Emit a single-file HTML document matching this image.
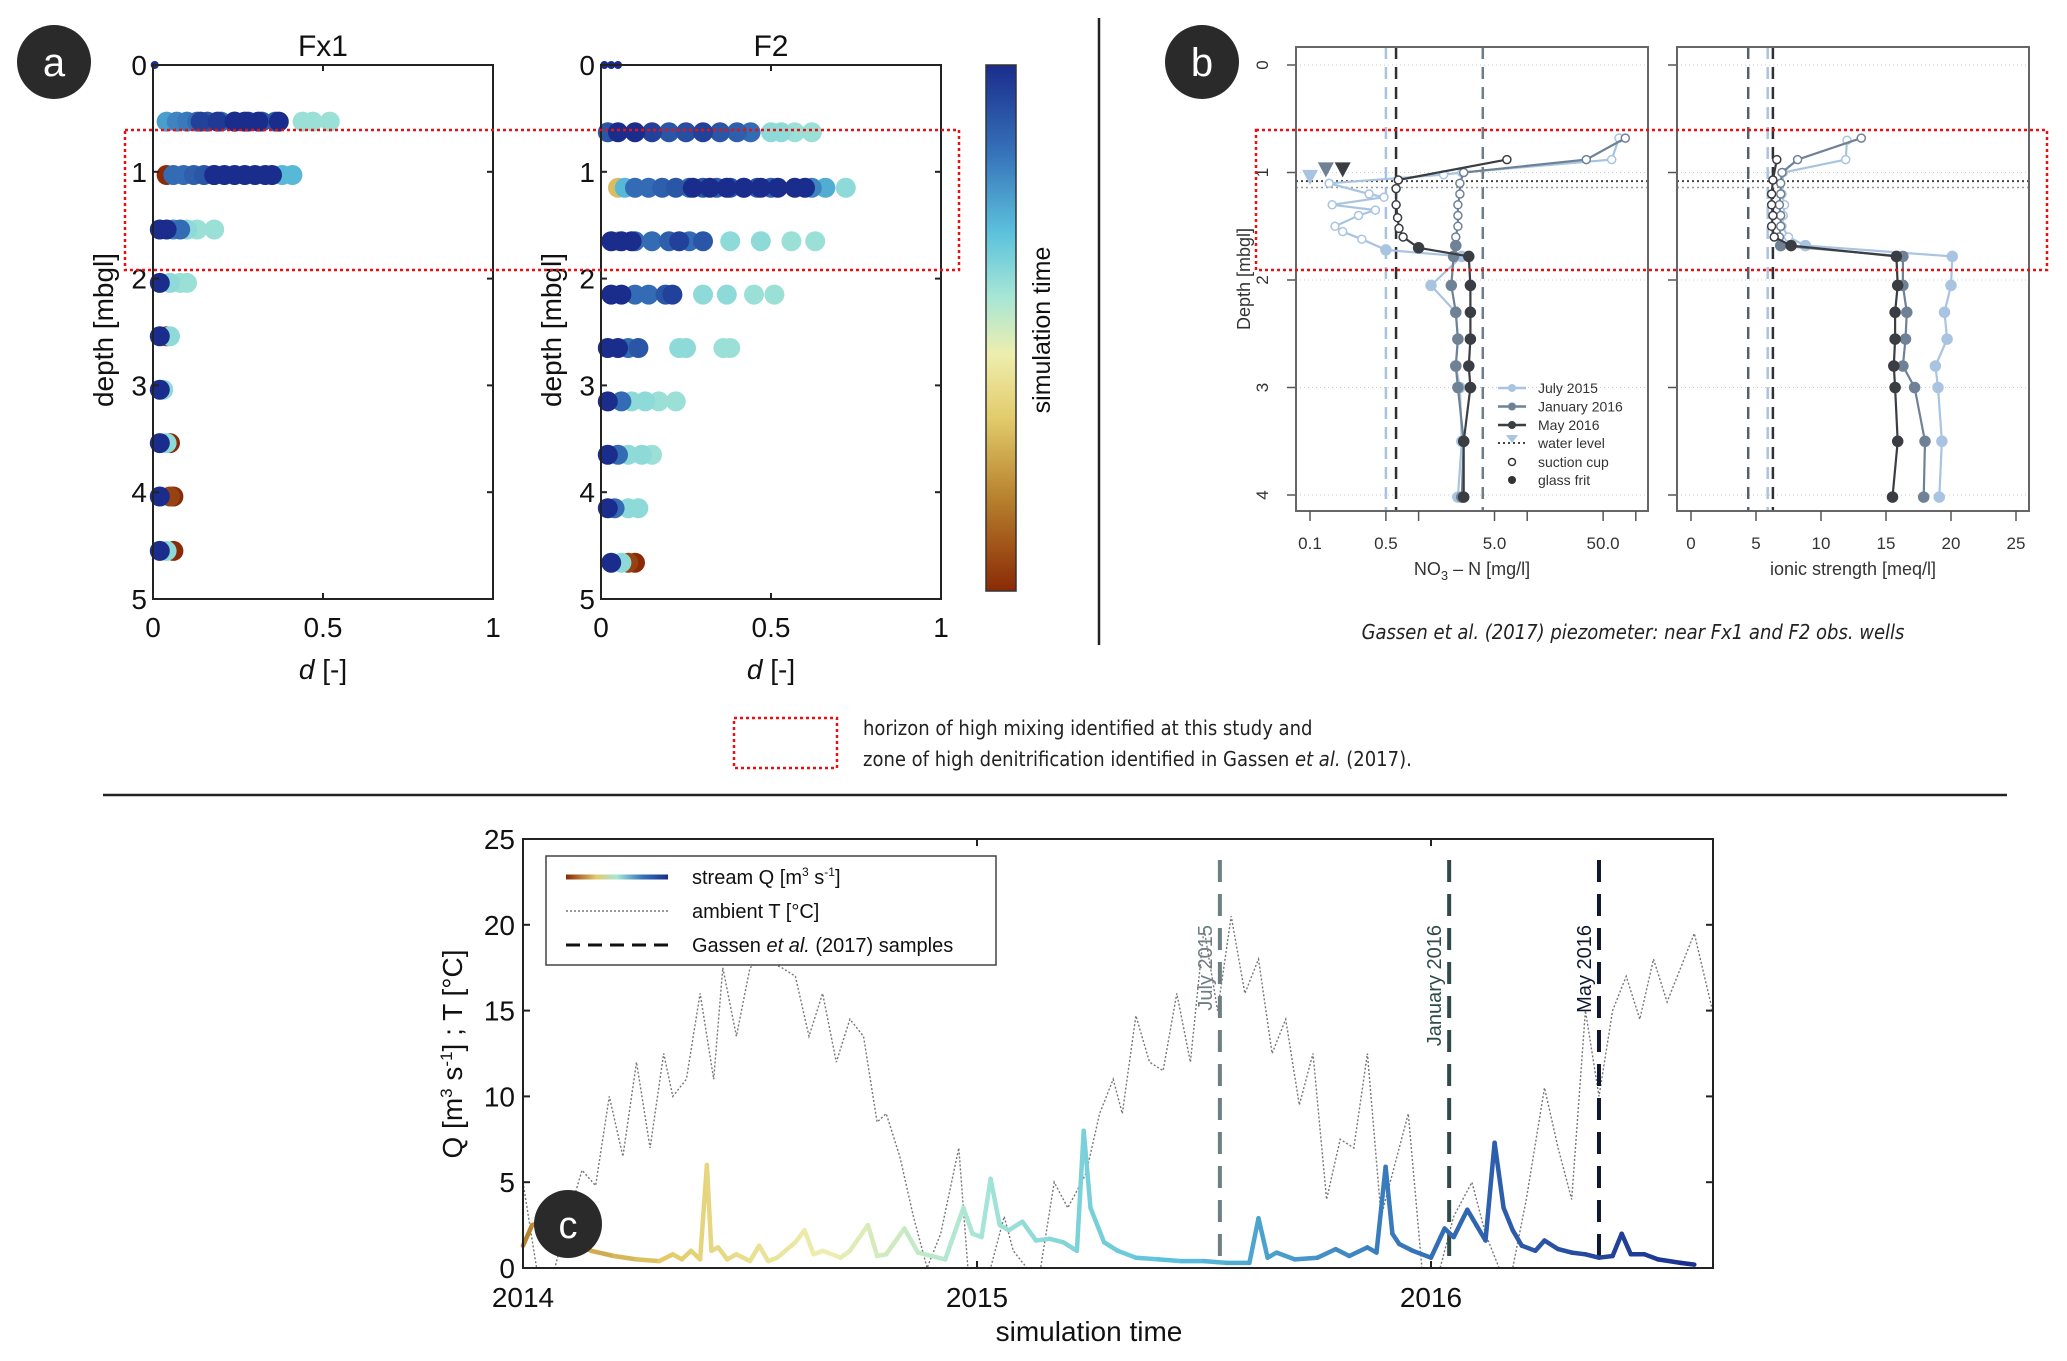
<!DOCTYPE html>
<html><head><meta charset="utf-8"><style>
html,body{margin:0;padding:0;background:#fff}
svg{display:block;font-family:"Liberation Sans",sans-serif}
</style></head><body>
<svg id="fig" width="2067" height="1361" viewBox="0 0 2067 1361" xmlns="http://www.w3.org/2000/svg">
<defs>
<linearGradient id="cbar" x1="0" y1="1" x2="0" y2="0">
<stop offset="0" stop-color="#8a2a06"/><stop offset="0.18" stop-color="#b8832e"/><stop offset="0.33" stop-color="#e2cc6c"/><stop offset="0.45" stop-color="#eeeeae"/><stop offset="0.56" stop-color="#a6e6d6"/><stop offset="0.68" stop-color="#5cc2dc"/><stop offset="0.83" stop-color="#3674ba"/><stop offset="1" stop-color="#1a2c8c"/>
</linearGradient>
<linearGradient id="qleg" x1="0" y1="0" x2="1" y2="0">
<stop offset="0" stop-color="#8a2a06"/><stop offset="0.3" stop-color="#e2cc6c"/><stop offset="0.5" stop-color="#a6e6d6"/><stop offset="0.75" stop-color="#3674ba"/><stop offset="1" stop-color="#1a2c8c"/>
</linearGradient>
</defs>
<g id="layer-a"></g>
<g id="layer-b"></g>
<g id="layer-c"></g>
</svg>
<script>
// ---------- Panel a data ----------
const fx1Depths = [0, 0.53, 1.03, 1.54, 2.04, 2.54, 3.04, 3.54, 4.04, 4.55];
const fx1Points = [
 [[0.005,1]],
 [[0.04,0.75],[0.07,0.8],[0.1,0.82],[0.13,0.85],[0.16,0.9],[0.2,0.85],[0.24,0.9],[0.28,0.95],[0.32,0.9],[0.36,0.88],[0.44,0.58],[0.47,0.58],[0.52,0.58],[0.14,0.95],[0.19,0.97],[0.24,1],[0.27,1],[0.31,1],[0.37,1]],
 [[0.04,0],[0.06,0.85],[0.09,0.85],[0.12,0.88],[0.15,0.9],[0.18,0.92],[0.38,0.7],[0.41,0.7],[0.18,1],[0.21,1],[0.24,1],[0.27,1],[0.3,1],[0.33,1],[0.35,1]],
 [[0.1,0.6],[0.13,0.58],[0.18,0.58],[0.06,0.8],[0.08,0.85],[0.02,1],[0.04,1]],
 [[0.05,0.6],[0.08,0.58],[0.1,0.58],[0.02,1]],
 [[0.04,0],[0.05,0.6],[0.02,1]],
 [[0.03,0.6],[0.02,1]],
 [[0.05,0],[0.04,0.6],[0.02,1]],
 [[0.06,0],[0.05,0.05],[0.02,1]],
 [[0.06,0],[0.04,0.6],[0.02,1]]
];
const f2Depths = [0, 0.63, 1.15, 1.65, 2.15, 2.65, 3.15, 3.65, 4.15, 4.66];
const f2Points = [
 [[0.01,1],[0.03,1],[0.05,1]],
 [[0.02,0.9],[0.05,1],[0.1,1],[0.15,0.95],[0.2,0.9],[0.25,0.92],[0.3,0.95],[0.35,0.9],[0.4,0.88],[0.44,0.85],[0.5,0.6],[0.53,0.6],[0.57,0.58],[0.62,0.58]],
 [[0.05,0.3],[0.07,0.7],[0.1,0.85],[0.14,0.85],[0.18,0.88],[0.22,0.9],[0.26,0.85],[0.3,0.9],[0.34,0.88],[0.38,0.9],[0.42,0.85],[0.46,0.9],[0.5,0.88],[0.62,0.8],[0.66,0.72],[0.72,0.6],[0.27,1],[0.32,1],[0.37,1],[0.42,1],[0.47,1],[0.52,1],[0.57,1],[0.6,1]],
 [[0.05,0.3],[0.1,0.85],[0.15,0.85],[0.2,0.88],[0.26,0.85],[0.3,0.9],[0.38,0.6],[0.47,0.6],[0.56,0.58],[0.63,0.58],[0.03,1],[0.06,1],[0.09,1],[0.23,0.95]],
 [[0.1,0.85],[0.14,0.85],[0.19,0.9],[0.21,0.95],[0.3,0.6],[0.37,0.6],[0.45,0.58],[0.51,0.58],[0.03,1],[0.06,1]],
 [[0.08,0.85],[0.11,0.9],[0.23,0.6],[0.25,0.6],[0.36,0.58],[0.38,0.58],[0.02,1],[0.05,1]],
 [[0.06,0.85],[0.09,0.6],[0.13,0.6],[0.17,0.58],[0.22,0.58],[0.02,1]],
 [[0.05,0.85],[0.08,0.6],[0.12,0.6],[0.15,0.58],[0.02,1]],
 [[0.04,0.85],[0.08,0.6],[0.11,0.6],[0.02,1]],
 [[0.1,0],[0.08,0.05],[0.06,0.6],[0.03,1]]
];
// ---------- Panel b data ----------
const no3July = [[70,0.68],[60,0.88],[2.5,1.0],[1.7,1.02],[0.15,1.1],[0.35,1.2],[0.48,1.23],[0.16,1.3],[0.4,1.35],[0.28,1.4],[0.17,1.5],[0.2,1.55],[0.3,1.62],[0.5,1.72],[2.5,1.78],[1.3,2.05],[2.2,2.3],[2.3,2.55],[2.2,2.8],[2.4,3.0],[2.5,3.5],[2.3,4.02]];
const no3Jan = [[80,0.68],[35,0.88],[2.6,1.0],[2.4,1.1],[2.4,1.2],[2.3,1.3],[2.3,1.4],[2.3,1.5],[2.2,1.6],[2.2,1.68],[2.1,1.78],[2.0,2.05],[2.2,2.3],[2.3,2.55],[2.2,2.8],[2.3,3.0],[2.6,3.5],[2.5,4.02]];
const no3May = [[6.5,0.88],[0.65,1.07],[0.62,1.15],[0.62,1.3],[0.64,1.42],[0.66,1.52],[0.72,1.6],[1.0,1.7],[2.9,1.78],[3.0,2.05],[3.0,2.3],[3.0,2.55],[2.9,2.8],[3.0,3.0],[2.6,3.5],[2.6,4.02]];
const ionJuly = [[12,0.7],[11.9,0.88],[7.1,1.0],[7.0,1.2],[7.2,1.3],[7.1,1.4],[7.0,1.5],[7.5,1.6],[8.8,1.68],[20.1,1.78],[20.0,2.05],[19.5,2.3],[19.7,2.55],[18.8,2.8],[19.0,3.0],[19.3,3.5],[19.1,4.02]];
const ionJan = [[13.1,0.68],[8.2,0.88],[7.0,1.0],[6.9,1.1],[6.9,1.2],[6.8,1.3],[6.9,1.4],[6.9,1.5],[6.8,1.6],[6.9,1.68],[16.3,1.78],[16.3,2.05],[16.6,2.3],[16.5,2.55],[16.3,2.8],[17.2,3.0],[18.0,3.5],[17.9,4.02]];
const ionMay = [[6.6,0.88],[6.3,1.07],[6.2,1.2],[6.2,1.3],[6.3,1.4],[6.2,1.5],[6.4,1.6],[7.7,1.68],[15.8,1.78],[15.9,2.05],[15.7,2.3],[15.7,2.55],[15.6,2.8],[15.7,3.0],[15.9,3.5],[15.5,4.02]];
const no3Refs = [0.5, 0.62, 3.9];
const ionRefs = [4.4, 5.9, 6.3];
const waterLevels = [1.08, 1.14];
const no3Ticks = [0.1, 0.5, 1, 5, 10, 50, 100];
const no3TickLabels = ["0.1","0.5","","5.0","","50.0",""];
const ionTicks = [0,5,10,15,20,25];
const depthTicks = [0,1,2,3,4];
// ---------- Panel c data ----------
const qTime = [2014.0,2014.02,2014.05,2014.08,2014.11,2014.15,2014.2,2014.25,2014.3,2014.33,2014.35,2014.37,2014.39,2014.405,2014.415,2014.43,2014.45,2014.47,2014.5,2014.52,2014.54,2014.56,2014.6,2014.62,2014.64,2014.66,2014.7,2014.72,2014.76,2014.78,2014.8,2014.84,2014.87,2014.9,2014.93,2014.97,2014.99,2015.01,2015.03,2015.05,2015.07,2015.1,2015.13,2015.16,2015.19,2015.22,2015.235,2015.25,2015.28,2015.31,2015.35,2015.4,2015.45,2015.5,2015.55,2015.6,2015.62,2015.64,2015.66,2015.7,2015.75,2015.79,2015.82,2015.86,2015.88,2015.9,2015.915,2015.93,2015.96,2016.0,2016.03,2016.05,2016.08,2016.1,2016.12,2016.14,2016.16,2016.18,2016.2,2016.23,2016.25,2016.28,2016.31,2016.34,2016.37,2016.4,2016.42,2016.44,2016.47,2016.5,2016.55,2016.58];
const qVals = [1.3,2.5,2.7,1.8,1.4,1.0,0.7,0.5,0.4,0.8,0.5,1.0,0.5,6.0,1.0,1.2,0.5,0.8,0.4,1.3,0.4,0.6,1.5,2.2,0.8,1.0,0.6,1.0,2.5,0.7,0.8,2.3,0.9,0.7,0.5,3.5,2.0,1.8,5.2,2.5,2.2,2.7,1.6,1.7,1.5,1.0,8.0,3.5,1.5,1.0,0.6,0.5,0.4,0.4,0.3,0.3,2.9,0.6,0.9,0.5,0.6,1.1,0.7,1.2,0.9,5.9,2.0,1.4,1.0,0.6,2.3,1.8,3.4,2.5,1.6,7.3,3.5,2.2,1.3,1.0,1.6,1.1,0.9,0.8,0.6,0.7,2.0,0.8,0.8,0.5,0.3,0.2];
const tTime = [2014.0,2014.03,2014.07,2014.1,2014.13,2014.16,2014.19,2014.22,2014.25,2014.28,2014.31,2014.33,2014.36,2014.39,2014.42,2014.44,2014.47,2014.5,2014.53,2014.57,2014.6,2014.63,2014.66,2014.69,2014.72,2014.75,2014.78,2014.8,2014.83,2014.86,2014.89,2014.92,2014.96,2014.98,2015.03,2015.06,2015.08,2015.11,2015.14,2015.17,2015.2,2015.24,2015.27,2015.3,2015.32,2015.35,2015.38,2015.41,2015.44,2015.47,2015.5,2015.53,2015.56,2015.59,2015.62,2015.65,2015.68,2015.71,2015.74,2015.77,2015.8,2015.83,2015.86,2015.89,2015.92,2015.95,2015.98,2016.02,2016.05,2016.09,2016.12,2016.15,2016.18,2016.21,2016.25,2016.28,2016.31,2016.34,2016.37,2016.4,2016.43,2016.46,2016.49,2016.52,2016.55,2016.58,2016.62];
const tVals = [5,0,0,3,5.7,4.8,10,6.5,12,7,12.5,10,11,16,11,17.5,13.5,17.5,18,17.5,17,13.5,16,12,14.5,13.5,8.5,9,6.5,3,0,2,7,0,0,3,1,0,0,5,3.5,5.5,9,11,9,14.7,12,11.5,16,12,19.8,15,20.5,16,18,12.5,14.5,9.5,12.5,4,7.5,7,12.5,3,6,9,0,0,3,5,2,0,0,4,10.5,7,4,15,10,15,17,14.5,18,15.5,17.5,19.5,15];
const sampleDates = [2015.535, 2016.04, 2016.37];
const sampleLabels = ["July 2015","January 2016","May 2016"];
const sampleColors = ["#6e7f84","#2f4a4a","#101830"];
const cYTicks = [0,5,10,15,20,25];
const cXTicks = [2014,2015,2016];

const NS = "http://www.w3.org/2000/svg";
function mk(parent, tag, attrs, text){
  const e = document.createElementNS(NS, tag);
  for (const k in attrs) e.setAttribute(k, attrs[k]);
  if (text !== undefined) e.textContent = text;
  parent.appendChild(e);
  return e;
}
const cmStops = [[0,[138,42,6]],[0.18,[184,131,46]],[0.33,[226,204,108]],[0.45,[238,238,174]],[0.56,[166,230,214]],[0.68,[92,194,220]],[0.83,[54,116,186]],[1,[26,44,140]]];
function cmap(t){
  t=Math.max(0,Math.min(1,t));
  for(let i=1;i<cmStops.length;i++){
    if(t<=cmStops[i][0]){
      const a=cmStops[i-1],b=cmStops[i],f=(t-a[0])/(b[0]-a[0]);
      return "rgb("+a[1].map((v,j)=>Math.round(v+(b[1][j]-v)*f)).join(",")+")";
    }
  }
  return "rgb(26,44,140)";
}

// ================= Panel A =================
const A = document.getElementById('layer-a');
let e;
e = mk(A,'circle',{cx:54,cy:62,r:37,fill:'#2a2a2a'});
 
e = mk(A,'text',{x:54,y:76,'font-size':40,fill:'#fff','text-anchor':'middle'},'a');
 

function drawWell(x0,x1,y0,y1,title,depths,points,name){
  const g = mk(A,'g',{});
   
  const xs=d=>x0+(x1-x0)*d, ys=z=>y0+(y1-y0)*z/5;
  for(let i=0;i<depths.length;i++){
    const pts = points[i].slice().sort((a,b)=>a[1]-b[1]);
    const r = depths[i]===0?4:10;
    for(const p of pts){
      const c = mk(g,'ellipse',{cx:xs(p[0]).toFixed(1),cy:ys(depths[i]).toFixed(1),rx:r,ry:r,fill:cmap(p[1])});
       
    }
  }
  e = mk(g,'rect',{x:x0,y:y0,width:x1-x0,height:y1-y0,fill:'none',stroke:'#222','stroke-width':2});
   
  for(let k=0;k<=5;k++){
    const y=ys(k);
    mk(g,'line',{x1:x0,x2:x0+6,y1:y,y2:y,stroke:'#222','stroke-width':2});
    mk(g,'line',{x1:x1,x2:x1-6,y1:y,y2:y,stroke:'#222','stroke-width':2});
    e = mk(g,'text',{x:x0-6,y:y+10,'font-size':28,'text-anchor':'end',fill:'#111'},String(k));
     
  }
  [0,0.5,1].forEach(v=>{
    const x=xs(v);
    mk(g,'line',{x1:x,x2:x,y1:y1,y2:y1-6,stroke:'#222','stroke-width':2});
    mk(g,'line',{x1:x,x2:x,y1:y0,y2:y0+6,stroke:'#222','stroke-width':2});
    e = mk(g,'text',{x:x,y:637,'font-size':28,'text-anchor':'middle',fill:'#111'},String(v));
     
  });
  e = mk(g,'text',{x:(x0+x1)/2,y:56,'font-size':30,'text-anchor':'middle',fill:'#111'},title);
   
  e = mk(g,'text',{x:(x0+x1)/2,y:679,'font-size':28,'text-anchor':'middle',fill:'#111'});
  e.innerHTML='<tspan font-style="italic">d</tspan> [-]';
   
  e = mk(g,'text',{x:0,y:0,'font-size':28,'text-anchor':'middle',fill:'#111',transform:'translate('+(x0-40)+',330) rotate(-90)'},'depth [mbgl]');
   
}
drawWell(153,493,65,599,'Fx1',fx1Depths,fx1Points,'fx1');
drawWell(601,941,65,599,'F2',f2Depths,f2Points,'f2');
e = mk(A,'rect',{x:986,y:65,width:30,height:526,fill:'url(#cbar)',stroke:'#333','stroke-width':1.5});
 
e = mk(A,'text',{x:0,y:0,'font-size':25,'text-anchor':'middle',fill:'#111',transform:'translate(1050,330) rotate(-90)'},'simulation time');
 
e = mk(A,'line',{x1:1099,x2:1099,y1:18,y2:645,stroke:'#222','stroke-width':2.5});
 
e = mk(A,'rect',{x:125,y:130,width:834,height:140,fill:'none',stroke:'#e81010','stroke-width':2.5,'stroke-dasharray':'3,3'});
 

// ================= Panel B =================
const B = document.getElementById('layer-b');
e = mk(B,'circle',{cx:1202,cy:62,r:37,fill:'#2a2a2a'});
 
e = mk(B,'text',{x:1202,y:76,'font-size':40,fill:'#fff','text-anchor':'middle'},'b');
 
const bY0=65, bPx=107.5, bTop=47, bBot=511;
const dy=z=>bY0+bPx*z;
const no3x=v=>1310+108.6*(Math.log10(v)+1);
const ionx=v=>1691+13.0*v;
const serColors={july:'#a9c4e0',jan:'#6f8195',may:'#3a3d42'};
function bPanel(x0,x1,xf,ticks,labels,title,refs,refCols,series,name){
  const g=mk(B,'g',{});
   
  depthTicks.forEach(z=>{
    mk(g,'line',{x1:x0,x2:x1,y1:dy(z),y2:dy(z),stroke:'#ccc','stroke-width':1,'stroke-dasharray':'1,3'});
    mk(g,'line',{x1:x0,x2:x0-9,y1:dy(z),y2:dy(z),stroke:'#555','stroke-width':1.5});
  });
  refs.forEach((v,i)=>{
    e=mk(g,'line',{x1:xf(v),x2:xf(v),y1:bTop,y2:bBot,stroke:refCols[i],'stroke-width':2.5,'stroke-dasharray':'12,8'});
     
  });
  e=mk(g,'line',{x1:x0,x2:x1,y1:dy(waterLevels[0]),y2:dy(waterLevels[0]),stroke:'#444','stroke-width':2,'stroke-dasharray':'2,3'});
   
  e=mk(g,'line',{x1:x0,x2:x1,y1:dy(waterLevels[1]),y2:dy(waterLevels[1]),stroke:'#999','stroke-width':1.5,'stroke-dasharray':'2,3'});
   
  series.forEach(s=>{
    const pts=s.data.map(p=>xf(p[0]).toFixed(1)+','+dy(p[1]).toFixed(1)).join(' ');
    e=mk(g,'polyline',{points:pts,fill:'none',stroke:s.col,'stroke-width':2.2});
     
    s.data.forEach(p=>{
      const open=p[1]<1.65;
      e=mk(g,'circle',{cx:xf(p[0]).toFixed(1),cy:dy(p[1]).toFixed(1),r:open?4:5,fill:open?'#fff':s.col,stroke:s.col,'stroke-width':1.5});
       
    });
  });
  e=mk(g,'rect',{x:x0,y:bTop,width:x1-x0,height:bBot-bTop,fill:'none',stroke:'#666','stroke-width':2});
   
  ticks.forEach((v,i)=>{
    mk(g,'line',{x1:xf(v),x2:xf(v),y1:bBot,y2:bBot+10,stroke:'#555','stroke-width':1.5});
    if(labels[i]){
      e=mk(g,'text',{x:xf(v),y:549,'font-size':17,'text-anchor':'middle',fill:'#333'},labels[i]);
       
    }
  });
  e=mk(g,'text',{x:(x0+x1)/2,y:575,'font-size':18,'text-anchor':'middle',fill:'#333'});
  e.innerHTML=title;
   
}
bPanel(1296,1648,no3x,no3Ticks,no3TickLabels,'NO<tspan dy="5" font-size="13">3</tspan><tspan dy="-5"> – N [mg/l]</tspan>',no3Refs,['#a9c4e0','#2e3134','#6f7d88'],
  [{data:no3July,col:serColors.july,name:'july-2015'},{data:no3Jan,col:serColors.jan,name:'january-2016'},{data:no3May,col:serColors.may,name:'may-2016'}],'no3-plot');
bPanel(1677,2029,ionx,ionTicks,ionTicks.map(String),'ionic strength [meq/l]',ionRefs,['#56606a','#a9c4e0','#2e3134'],
  [{data:ionJuly,col:serColors.july,name:'july-2015'},{data:ionJan,col:serColors.jan,name:'january-2016'},{data:ionMay,col:serColors.may,name:'may-2016'}],'ionic-plot');
depthTicks.forEach(z=>{
  e=mk(B,'text',{x:0,y:0,'font-size':17,'text-anchor':'middle',fill:'#333',transform:'translate(1268,'+dy(z)+') rotate(-90)'},String(z));
   
});
e=mk(B,'text',{x:0,y:0,'font-size':18,'text-anchor':'middle',fill:'#333',transform:'translate(1250,279) rotate(-90)'},'Depth [mbgl]');
 
[[0.1,1.05,'#a9c4e0'],[0.14,0.98,'#6f8195'],[0.2,0.98,'#3a3d42']].forEach(t=>{
  const x=no3x(t[0]),y=dy(t[1]);
  e=mk(B,'polygon',{points:(x-8)+','+(y-8)+' '+(x+8)+','+(y-8)+' '+x+','+(y+7),fill:t[2]});
   
});
// legend b
const bl=mk(B,'g',{});
 
[['July 2015',serColors.july],['January 2016',serColors.jan],['May 2016',serColors.may]].forEach((s,i)=>{
  const y=388+i*18.5;
  mk(bl,'line',{x1:1498,x2:1526,y1:y,y2:y,stroke:s[1],'stroke-width':2.5});
  mk(bl,'circle',{cx:1512,cy:y,r:4,fill:s[1]});
  e=mk(bl,'text',{x:1538,y:y+5,'font-size':14,fill:'#333'},s[0]);
   
});
mk(bl,'line',{x1:1498,x2:1526,y1:443,y2:443,stroke:'#444','stroke-width':2,'stroke-dasharray':'2,3'});
mk(bl,'polygon',{points:'1506,435 1518,435 1512,443',fill:'#a9c4e0'});
e=mk(bl,'text',{x:1538,y:448,'font-size':14,fill:'#333'},'water level');
 
mk(bl,'circle',{cx:1512,cy:462,r:3.5,fill:'#fff',stroke:'#333','stroke-width':1.5});
e=mk(bl,'text',{x:1538,y:467,'font-size':14,fill:'#333'},'suction cup');
 
mk(bl,'circle',{cx:1512,cy:480,r:4,fill:'#333'});
e=mk(bl,'text',{x:1538,y:485,'font-size':14,fill:'#333'},'glass frit');
 
e=mk(B,'text',{x:1633,y:639,'font-size':20,'font-style':'italic','text-anchor':'middle',fill:'#222','font-family':'"DejaVu Sans Condensed","Liberation Sans",sans-serif'},'Gassen et al. (2017) piezometer: near Fx1 and F2 obs. wells');
 
e=mk(B,'rect',{x:1256,y:130,width:791,height:140,fill:'none',stroke:'#e81010','stroke-width':2.5,'stroke-dasharray':'3,3'});
 
// shared legend
e=mk(B,'rect',{x:734,y:718,width:103,height:50,fill:'none',stroke:'#e81010','stroke-width':2.5,'stroke-dasharray':'3,3'});
 
e=mk(B,'text',{x:863,y:735,'font-size':20,fill:'#222','font-family':'"DejaVu Sans Condensed","Liberation Sans",sans-serif'},'horizon of high mixing identified at this study and');
 
e=mk(B,'text',{x:863,y:766,'font-size':20,fill:'#222','font-family':'"DejaVu Sans Condensed","Liberation Sans",sans-serif'});
e.innerHTML='zone of high denitrification identified in Gassen <tspan font-style="italic">et al.</tspan> (2017).';
 
e=mk(B,'line',{x1:103,x2:2007,y1:795,y2:795,stroke:'#222','stroke-width':2.5});
 

// ================= Panel C =================
const C=document.getElementById('layer-c');
const cx0=523,cx1=1713,cy0=839,cy1=1268;
const tx=t=>cx0+(t-2014)*454, qy=v=>cy1-v*(cy1-cy0)/25;
e=mk(C,'polyline',{points:tTime.map((t,i)=>tx(t).toFixed(1)+','+qy(tVals[i]).toFixed(1)).join(' '),fill:'none',stroke:'#777','stroke-width':1.4,'stroke-dasharray':'2,2'});
 
sampleDates.forEach((d,i)=>{
  e=mk(C,'line',{x1:tx(d),x2:tx(d),y1:860,y2:cy1,stroke:sampleColors[i],'stroke-width':4,'stroke-dasharray':'22,12'});
   
  e=mk(C,'text',{x:0,y:0,'font-size':20,'text-anchor':'end',fill:sampleColors[i],transform:'translate('+(tx(d)-8)+',925) rotate(-90)'},sampleLabels[i]);
   
});
for(let i=0;i<qTime.length-1;i++){
  const frac=(qTime[i]-2014)/2.6;
  const t=0.18+0.82*Math.pow(Math.max(frac,0),0.8);
  e=mk(C,'line',{x1:tx(qTime[i]).toFixed(1),y1:qy(qVals[i]).toFixed(1),x2:tx(qTime[i+1]).toFixed(1),y2:qy(qVals[i+1]).toFixed(1),stroke:cmap(t),'stroke-width':4.5,'stroke-linecap':'round'});
   
}
e=mk(C,'rect',{x:cx0,y:cy0,width:cx1-cx0,height:cy1-cy0,fill:'none',stroke:'#222','stroke-width':2});
 
cYTicks.forEach(v=>{
  mk(C,'line',{x1:cx0,x2:cx0+7,y1:qy(v),y2:qy(v),stroke:'#222','stroke-width':2});
  mk(C,'line',{x1:cx1,x2:cx1-7,y1:qy(v),y2:qy(v),stroke:'#222','stroke-width':2});
  e=mk(C,'text',{x:cx0-8,y:qy(v)+10,'font-size':28,'text-anchor':'end',fill:'#111'},String(v));
   
});
cXTicks.forEach(v=>{
  mk(C,'line',{x1:tx(v),x2:tx(v),y1:cy1,y2:cy1-7,stroke:'#222','stroke-width':2});
  mk(C,'line',{x1:tx(v),x2:tx(v),y1:cy0,y2:cy0+7,stroke:'#222','stroke-width':2});
  e=mk(C,'text',{x:tx(v),y:1307,'font-size':28,'text-anchor':'middle',fill:'#111'},String(v));
   
});
e=mk(C,'text',{x:1089,y:1341,'font-size':28,'text-anchor':'middle',fill:'#111'},'simulation time');
 
e=mk(C,'text',{x:0,y:0,'font-size':28,'text-anchor':'middle',fill:'#111',transform:'translate(462,1054) rotate(-90)'});
e.innerHTML='Q [m<tspan dy="-10" font-size="17">3</tspan><tspan dy="10"> s</tspan><tspan dy="-10" font-size="17">-1</tspan><tspan dy="10">] ; T [°C]</tspan>';
 
const cl=mk(C,'g',{});
 
mk(cl,'rect',{x:546,y:856,width:450,height:109,fill:'#fff',stroke:'#444','stroke-width':1.5});
e=mk(cl,'rect',{x:566,y:874.5,width:102,height:5,fill:'url(#qleg)'});
 
e=mk(cl,'text',{x:692,y:884,'font-size':20,fill:'#111'});
e.innerHTML='stream Q [m<tspan dy="-8" font-size="12">3</tspan><tspan dy="8"> s</tspan><tspan dy="-8" font-size="12">-1</tspan><tspan dy="8">]</tspan>';
 
mk(cl,'line',{x1:566,x2:668,y1:911,y2:911,stroke:'#777','stroke-width':1.5,'stroke-dasharray':'2,2'});
e=mk(cl,'text',{x:692,y:918,'font-size':20,fill:'#111'},'ambient T [°C]');
 
mk(cl,'line',{x1:566,x2:668,y1:945,y2:945,stroke:'#111','stroke-width':3,'stroke-dasharray':'14,8'});
e=mk(cl,'text',{x:692,y:952,'font-size':20,fill:'#111'});
e.innerHTML='Gassen <tspan font-style="italic">et al.</tspan> (2017) samples';
 
e=mk(C,'circle',{cx:568,cy:1224,r:34,fill:'#2a2a2a'});
 
e=mk(C,'text',{x:568,y:1238,'font-size':38,fill:'#fff','text-anchor':'middle'},'c');
 
</script>
</body></html>
